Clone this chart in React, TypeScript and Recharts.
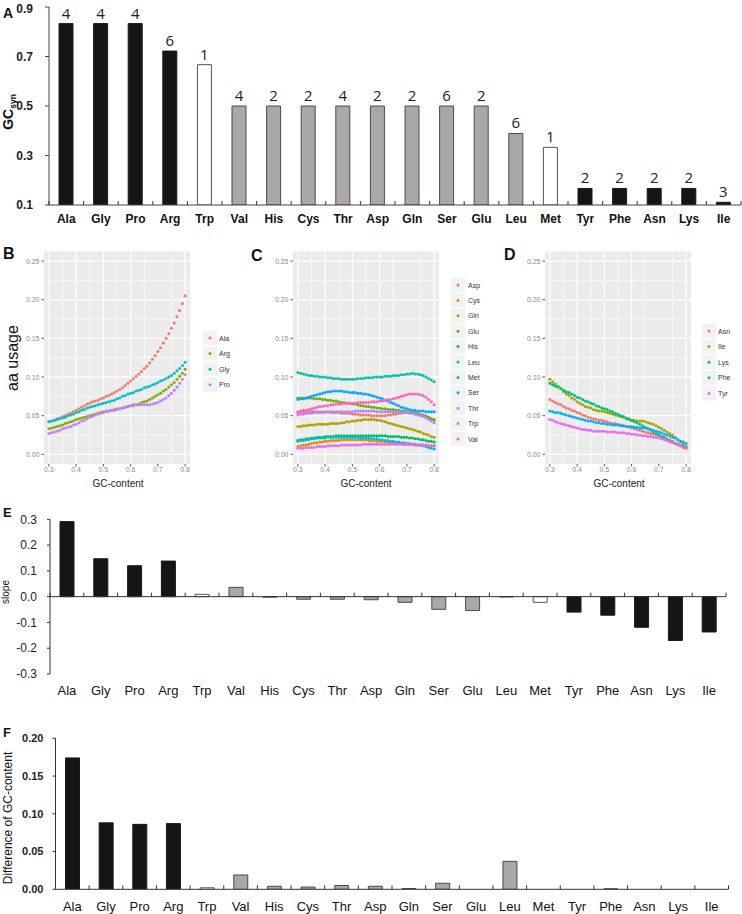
import React from 'react';
import {
  BarChart, Bar, XAxis, YAxis, Cell, LabelList, ReferenceLine,
  ScatterChart, Scatter, CartesianGrid,
} from 'recharts';

const FONT = '"Liberation Sans", Arial, sans-serif';

// ---------- categories & bar data ----------
const aminoAcids = ['Ala','Gly','Pro','Arg','Trp','Val','His','Cys','Thr','Asp','Gln','Ser','Glu','Leu','Met','Tyr','Phe','Asn','Lys','Ile'];
const barClass = ['k','k','k','k','w','g','g','g','g','g','g','g','g','g','w','k','k','k','k','k'];
const gcSyn = [0.833,0.833,0.833,0.722,0.667,0.5,0.5,0.5,0.5,0.5,0.5,0.5,0.5,0.389,0.333,0.167,0.167,0.167,0.167,0.111];
const codonCount = [4,4,4,6,1,4,2,2,4,2,2,6,2,6,1,2,2,2,2,3];
const slope = [0.291,0.147,0.120,0.138,0.009,0.036,-0.002,-0.010,-0.010,-0.012,-0.022,-0.049,-0.054,-0.001,-0.022,-0.060,-0.072,-0.119,-0.170,-0.137];
const gcDiff = [0.174,0.088,0.086,0.087,0.002,0.019,0.004,0.003,0.005,0.004,0.001,0.008,0,0.037,0,0,0.0005,0,0,0];

const ticksA = [0.1,0.3,0.5,0.7,0.9];
const ticksE = [-0.3,-0.2,-0.1,0,0.1,0.2,0.3];
const ticksF = [0,0.05,0.1,0.15,0.2];

// ---------- aa usage vs GC-content ----------
const gcContent = [0.30,0.31,0.32,0.33,0.34,0.35,0.36,0.37,0.38,0.39,0.40,0.41,0.42,0.43,0.44,0.45,0.46,0.47,0.48,0.49,0.50,0.51,0.52,0.53,0.54,0.55,0.56,0.57,0.58,0.59,0.60,0.61,0.62,0.63,0.64,0.65,0.66,0.67,0.68,0.69,0.70,0.71,0.72,0.73,0.74,0.75,0.76,0.77,0.78,0.79,0.80];

// Panel B
const usageAla = [.042,.043,.044,.046,.047,.049,.050,.052,.053,.055, .057,.059,.061,.063,.065,.066,.068,.069,.070,.072, .073,.075,.076,.078,.080,.082,.084,.086,.089,.092, .095,.098,.101,.104,.107,.111,.114,.118,.123,.128, .133,.138,.144,.150,.156,.163,.170,.178,.186,.195, .205];
const usageArg = [.033,.034,.035,.036,.037,.038,.040,.041,.042,.043, .045,.046,.047,.048,.049,.050,.051,.052,.053,.054, .055,.056,.056,.057,.058,.059,.059,.060,.061,.062, .063,.064,.064,.065,.067,.068,.069,.071,.073,.075, .077,.079,.082,.084,.087,.090,.093,.097,.101,.105, .110];
const usageGly = [.042,.043,.044,.045,.046,.047,.048,.050,.051,.052, .054,.055,.057,.058,.060,.061,.062,.063,.064,.065, .066,.067,.068,.069,.070,.072,.073,.075,.076,.078, .079,.080,.082,.083,.084,.086,.087,.088,.090,.091, .093,.095,.096,.098,.100,.102,.105,.108,.111,.115, .119];
const usagePro = [.027,.028,.029,.030,.031,.033,.034,.035,.036,.038, .039,.041,.043,.044,.046,.048,.049,.051,.052,.053, .054,.055,.056,.057,.057,.058,.059,.060,.061,.062, .063,.063,.064,.064,.064,.064,.064,.064,.065,.066, .067,.069,.071,.073,.076,.079,.083,.087,.092,.097, .103];

// Panel C
const usageAsp = [.054,.054,.055,.055,.055,.055,.055,.055,.055,.055, .055,.055,.054,.054,.054,.054,.053,.053,.053,.053, .052,.052,.052,.051,.051,.051,.051,.050,.050,.050, .050,.050,.050,.051,.051,.052,.052,.053,.053,.054, .054,.054,.054,.054,.053,.052,.051,.050,.048,.046, .044];
const usageCys = [.010,.011,.012,.012,.013,.014,.015,.015,.016,.016, .017,.017,.018,.018,.018,.018,.019,.019,.019,.019, .019,.019,.019,.019,.019,.019,.018,.018,.018,.017, .017,.017,.016,.016,.015,.015,.015,.014,.014,.013, .013,.013,.013,.012,.012,.012,.012,.012,.011,.011, .011];
const usageGln = [.036,.036,.037,.037,.038,.038,.038,.039,.039,.039, .039,.039,.040,.040,.040,.040,.041,.041,.042,.042, .043,.043,.044,.044,.045,.045,.045,.045,.045,.044, .044,.043,.042,.041,.040,.039,.038,.037,.036,.035, .034,.033,.032,.031,.030,.029,.027,.026,.025,.023, .022];
const usageGlu = [.073,.073,.073,.073,.073,.073,.072,.072,.072,.071, .071,.070,.070,.069,.069,.068,.067,.067,.066,.066, .065,.065,.064,.063,.063,.062,.062,.061,.061,.060, .060,.059,.059,.058,.058,.058,.057,.057,.056,.056, .055,.054,.054,.053,.052,.051,.050,.049,.048,.046, .045];
const usageHis = [.018,.019,.019,.020,.020,.021,.021,.022,.022,.022, .023,.023,.023,.023,.024,.024,.024,.024,.024,.024, .024,.024,.024,.024,.024,.024,.024,.024,.024,.024, .024,.024,.024,.023,.023,.023,.023,.023,.022,.022, .022,.021,.021,.020,.020,.019,.019,.018,.017,.017, .016];
const usageLeu = [.106,.105,.104,.103,.102,.102,.101,.101,.100,.100, .100,.099,.099,.098,.098,.098,.097,.097,.097,.097, .097,.097,.098,.098,.098,.099,.099,.099,.100,.100, .100,.100,.101,.101,.101,.102,.102,.102,.103,.103, .104,.104,.105,.104,.104,.103,.102,.100,.098,.096, .094];
const usageMet = [.017,.018,.018,.019,.019,.020,.020,.021,.021,.021, .021,.022,.022,.022,.022,.022,.022,.022,.022,.022, .022,.022,.022,.021,.021,.021,.021,.020,.020,.020, .019,.019,.018,.018,.017,.017,.016,.016,.015,.015, .014,.014,.013,.013,.012,.012,.011,.010,.009,.008, .007];
const usageSer = [.071,.072,.072,.073,.074,.075,.076,.077,.078,.079, .080,.081,.081,.082,.082,.082,.082,.081,.081,.080, .080,.080,.079,.079,.078,.078,.077,.076,.075,.074, .073,.072,.070,.069,.067,.066,.064,.063,.061,.060, .059,.058,.057,.057,.056,.056,.056,.055,.055,.055, .055];
const usageThr = [.051,.052,.052,.053,.053,.053,.054,.054,.054,.054, .054,.055,.055,.055,.055,.055,.055,.055,.055,.055, .055,.056,.056,.056,.056,.056,.056,.056,.056,.055, .055,.055,.055,.055,.055,.055,.055,.055,.054,.054, .054,.053,.053,.052,.051,.050,.049,.047,.045,.043, .041];
const usageTrp = [.008,.008,.008,.009,.009,.009,.009,.010,.010,.010, .010,.011,.011,.011,.011,.011,.012,.012,.012,.012, .012,.012,.012,.012,.013,.013,.013,.013,.013,.013, .013,.013,.013,.013,.013,.013,.013,.013,.013,.013, .013,.013,.013,.012,.012,.012,.012,.012,.011,.011, .011];
const usageVal = [.055,.056,.057,.057,.058,.059,.060,.061,.062,.062, .063,.063,.064,.064,.065,.065,.065,.066,.066,.066, .066,.066,.067,.067,.067,.067,.067,.068,.068,.068, .069,.069,.070,.071,.071,.072,.073,.074,.075,.076, .077,.078,.078,.078,.078,.077,.076,.074,.071,.068, .064];

// Panel D
const usageAsn = [.071,.069,.067,.065,.064,.062,.060,.059,.057,.056, .054,.053,.051,.050,.048,.047,.046,.045,.044,.044, .043,.042,.041,.040,.040,.039,.038,.037,.036,.035, .034,.033,.032,.031,.030,.029,.028,.027,.026,.026, .025,.023,.022,.020,.019,.017,.015,.013,.011,.009, .008];
const usageIle = [.097,.094,.091,.088,.085,.081,.078,.076,.073,.071, .068,.066,.064,.062,.061,.060,.058,.057,.056,.056, .055,.054,.053,.052,.051,.050,.049,.048,.046,.045, .044,.044,.043,.043,.043,.042,.041,.040,.039,.037, .035,.033,.031,.029,.027,.025,.022,.019,.016,.013, .010];
const usageLys = [.092,.090,.088,.087,.085,.083,.081,.080,.078,.076, .074,.073,.071,.069,.068,.066,.065,.063,.062,.060, .059,.058,.056,.055,.053,.052,.050,.049,.047,.046, .044,.042,.041,.039,.037,.035,.033,.031,.029,.027, .025,.023,.021,.019,.017,.016,.014,.013,.011,.010, .009];
const usagePhe = [.056,.055,.054,.054,.053,.052,.051,.050,.049,.048, .047,.046,.045,.044,.043,.043,.042,.041,.041,.040, .040,.039,.039,.038,.038,.038,.037,.037,.036,.036, .036,.035,.035,.034,.034,.034,.033,.032,.031,.030, .029,.028,.026,.025,.024,.022,.021,.019,.017,.016, .014];
const usageTyr = [.045,.044,.042,.041,.040,.039,.038,.037,.036,.035, .034,.033,.032,.032,.031,.031,.030,.030,.030,.030, .030,.029,.029,.029,.029,.028,.028,.028,.027,.027, .026,.026,.025,.025,.024,.024,.023,.023,.022,.022, .021,.020,.019,.018,.016,.015,.014,.012,.011,.009, .008];

const namesB = ['Ala','Arg','Gly','Pro'];
const valuesB = [usageAla, usageArg, usageGly, usagePro];
const colorsB = ['#F8766D','#7CAE00','#00BFC4','#C77CFF'];

const namesC = ['Asp','Cys','Gln','Glu','His','Leu','Met','Ser','Thr','Trp','Val'];
const valuesC = [usageAsp, usageCys, usageGln, usageGlu, usageHis, usageLeu, usageMet, usageSer, usageThr, usageTrp, usageVal];
const colorsC = ['#F8766D','#DB8E00','#AEA200','#64B200','#00BD5C','#00C1A7','#00BADE','#00A6FF','#B385FF','#EF67EB','#FF63B6'];

const namesD = ['Asn','Ile','Lys','Phe','Tyr'];
const valuesD = [usageAsn, usageIle, usageLys, usagePhe, usageTyr];
const colorsD = ['#F8766D','#A3A500','#00BF7D','#00B0F6','#E76BF3'];

const ggXTicks = [0.3,0.4,0.5,0.6,0.7,0.8];
const ggXMinor = [0.35,0.45,0.55,0.65,0.75];
const ggYTicks = [0,0.05,0.1,0.15,0.2,0.25];
const ggYMinor = [0.025,0.075,0.125,0.175,0.225];

// ---------- styles ----------
const fillOf: Record<string, string> = { k: '#151515', g: '#aaa7a4', w: '#ffffff' };
const strokeOf: Record<string, string> = { k: '#1a1a1a', g: '#4a4a4a', w: '#555555' };

const barData = aminoAcids.map((aa, i) => ({
  aa, cls: barClass[i], gc: gcSyn[i], n: codonCount[i], slope: slope[i], diff: gcDiff[i],
}));

function CategoryTick(props: any) {
  const { x, y, payload, index, half, count, tickUp, zeroShift, labelDy, fontSize, fontWeight } = props;
  const zy = y - (zeroShift || 0);
  return (
    <g>
      <line x1={x - half} x2={x - half} y1={zy} y2={zy - tickUp} stroke="#333" strokeWidth={1} />
      {index === count - 1 ? (
        <line x1={x + half} x2={x + half} y1={zy} y2={zy - tickUp} stroke="#333" strokeWidth={1} />
      ) : null}
      <text x={x} y={y + labelDy} textAnchor="middle" fontSize={fontSize} fontWeight={fontWeight}
        fill="#111" fontFamily={FONT}>{payload.value}</text>
    </g>
  );
}

function UsagePanel({ left, top, names, values, colors }: any) {
  const yW = 44;
  const plotW = 146;
  return (
    <div style={{ position: 'absolute', left, top }}>
      <ScatterChart width={yW + plotW + 2} height={238} margin={{ top: 11.4, right: 2, bottom: 0, left: 0 }}>
        <CartesianGrid fill="#EBEBEB" fillOpacity={1} stroke="#ffffff" strokeWidth={0.6}
          horizontalValues={ggYMinor} verticalValues={ggXMinor} />
        <CartesianGrid stroke="#ffffff" strokeWidth={1.2}
          horizontalValues={ggYTicks} verticalValues={ggXTicks} />
        <XAxis type="number" dataKey="x" domain={[0.282, 0.818]} ticks={ggXTicks} allowDataOverflow
          height={14} axisLine={false} tickSize={2.5} tickMargin={1}
          tickLine={{ stroke: '#555' }}
          tick={{ fontSize: 7, fill: '#8a8a8a', fontFamily: FONT }}
          tickFormatter={(v: number) => v.toFixed(1)} />
        <YAxis type="number" dataKey="y" domain={[-0.0125, 0.2625]} ticks={ggYTicks} allowDataOverflow
          width={yW} axisLine={false} tickSize={2.5} tickMargin={2}
          tickLine={{ stroke: '#555' }}
          tick={{ fontSize: 7, fill: '#8a8a8a', fontFamily: FONT }}
          tickFormatter={(v: number) => v.toFixed(2)} />
        {names.map((nm: string, si: number) => (
          <Scatter key={nm} name={nm} isAnimationActive={false}
            data={gcContent.map((x, i) => ({ x, y: values[si][i] }))}
            fill={colors[si]}
            shape={(p: any) => <circle cx={p.cx} cy={p.cy} r={1.5} fill={colors[si]} />} />
        ))}
      </ScatterChart>
    </div>
  );
}

function LegendBlock({ keyX, labelX, y0, step, names, colors }: any) {
  return (
    <g>
      {names.map((nm: string, i: number) => (
        <g key={nm}>
          <rect x={keyX - 7.5} y={y0 + i * step - 7.5} width={15} height={15} fill="#F2F2F2" stroke="#ffffff" strokeWidth={0.8} />
          <circle cx={keyX} cy={y0 + i * step} r={1.5} fill={colors[i]} />
          <text x={labelX} y={y0 + i * step + 2.5} fontSize={7} fill="#333" fontFamily={FONT}>{nm}</text>
        </g>
      ))}
    </g>
  );
}

export default function App() {
  // Panel A layout
  const aYW = 49, aRight = 1, aW = 742;
  const aHalf = (aW - aYW - aRight) / 20 / 2;
  // Panel E layout
  const eYW = 50, eRight = 16, eTop = 505, ePlotTop = 519.3, ePlotH = 154.7;
  const eHalf = (742 - eYW - eRight) / 20 / 2;
  // Panel F layout
  const fYW = 55.5, fRight = 13.5, fTop = 725, fPlotTop = 738.3, fPlotH = 151;
  const fHalf = (742 - fYW - fRight) / 20 / 2;

  return (
    <div style={{ position: 'absolute', left: 0, top: 0, width: 742, height: 914, background: '#fff', overflow: 'hidden', fontFamily: FONT }}>
      {/* Panel A */}
      <div style={{ position: 'absolute', left: 0, top: 0 }}>
        <BarChart width={aW} height={232} data={barData} margin={{ top: 7, right: aRight, bottom: 0, left: 0 }}>
          <XAxis dataKey="aa" interval={0} height={27} tickSize={0} tickMargin={0} tickLine={false}
            axisLine={{ stroke: '#444' }}
            tick={(p: any) => <CategoryTick {...p} half={aHalf} count={20} tickUp={4} labelDy={18} fontSize={12} fontWeight="bold" />} />
          <YAxis type="number" domain={[0.1, 0.9]} ticks={ticksA} allowDataOverflow width={aYW}
            tickSize={4} tickMargin={12} axisLine={{ stroke: '#444' }} tickLine={{ stroke: '#444' }}
            tick={{ fontSize: 12, fontWeight: 'bold', fill: '#222', fontFamily: FONT }}
            tickFormatter={(v: number) => v.toFixed(1)} />
          <Bar dataKey="gc" barSize={14} isAnimationActive={false}>
            {barData.map((d) => (
              <Cell key={d.aa} fill={fillOf[d.cls]} stroke={strokeOf[d.cls]} strokeWidth={1} />
            ))}
            <LabelList dataKey="n" position="top" offset={5}
              style={{ fontSize: 15, fill: '#222', fontFamily: '"Open Sans", "Liberation Sans", sans-serif' }} />
          </Bar>
        </BarChart>
      </div>

      {/* Panels B, C, D */}
      <UsagePanel left={0} top={240} names={namesB} values={valuesB} colors={colorsB} />
      <UsagePanel left={249} top={240} names={namesC} values={valuesC} colors={colorsC} />
      <UsagePanel left={501} top={240} names={namesD} values={valuesD} colors={colorsD} />

      {/* Panel E */}
      <div style={{ position: 'absolute', left: 0, top: eTop }}>
        <BarChart width={742} height={ePlotTop - eTop + ePlotH + 30} data={barData}
          margin={{ top: ePlotTop - eTop, right: eRight, bottom: 0, left: 0 }}>
          <XAxis dataKey="aa" interval={0} height={30} tickSize={0} tickMargin={0} tickLine={false} axisLine={false}
            tick={(p: any) => <CategoryTick {...p} half={eHalf} count={20} tickUp={4} zeroShift={ePlotH / 2} labelDy={21} fontSize={13} fontWeight="normal" />} />
          <YAxis type="number" domain={[-0.3, 0.3]} ticks={ticksE} allowDataOverflow width={eYW}
            tickSize={3} tickMargin={10} axisLine={{ stroke: '#333' }} tickLine={{ stroke: '#333' }}
            tick={{ fontSize: 12, fill: '#222', fontFamily: FONT }}
            tickFormatter={(v: number) => v.toFixed(1)} />
          <ReferenceLine y={0} stroke="#333" strokeWidth={1} />
          <Bar dataKey="slope" barSize={14} isAnimationActive={false}>
            {barData.map((d) => (
              <Cell key={d.aa} fill={fillOf[d.cls]} stroke={strokeOf[d.cls]} strokeWidth={1} />
            ))}
          </Bar>
        </BarChart>
      </div>

      {/* Panel F */}
      <div style={{ position: 'absolute', left: 0, top: fTop }}>
        <BarChart width={742} height={189} data={barData}
          margin={{ top: fPlotTop - fTop, right: fRight, bottom: 0, left: 0 }}>
          <XAxis dataKey="aa" interval={0} height={189 - (fPlotTop - fTop) - fPlotH} tickSize={0} tickMargin={0} tickLine={false}
            axisLine={{ stroke: '#333' }}
            tick={(p: any) => <CategoryTick {...p} half={fHalf} count={20} tickUp={4} labelDy={22} fontSize={13} fontWeight="normal" />} />
          <YAxis type="number" domain={[0, 0.2]} ticks={ticksF} allowDataOverflow width={fYW}
            tickSize={3} tickMargin={9} axisLine={{ stroke: '#333' }} tickLine={{ stroke: '#333' }}
            tick={{ fontSize: 11, fontWeight: 'bold', fill: '#222', fontFamily: FONT }}
            tickFormatter={(v: number) => v.toFixed(2)} />
          <Bar dataKey="diff" barSize={14} isAnimationActive={false}>
            {barData.map((d) => (
              <Cell key={d.aa} fill={fillOf[d.cls]} stroke={strokeOf[d.cls]} strokeWidth={1} />
            ))}
          </Bar>
        </BarChart>
      </div>

      {/* Overlay: panel letters, axis titles, legends */}
      <svg width={742} height={914} style={{ position: 'absolute', left: 0, top: 0, pointerEvents: 'none' }} fontFamily={FONT}>
        <text x={3} y={18} fontSize={14} fontWeight="bold" fill="#111">A</text>
        <text transform="translate(13,112) rotate(-90)" textAnchor="middle" fontSize={14} fontWeight="bold" fill="#111">
          <tspan>GC</tspan><tspan fontSize={8.5} dy={2.5}>syn</tspan>
        </text>

        <text x={3} y={259} fontSize={16} fontWeight="bold" fill="#111">B</text>
        <text x={251} y={261} fontSize={16} fontWeight="bold" fill="#111">C</text>
        <text x={504} y={260} fontSize={16} fontWeight="bold" fill="#111">D</text>
        <text transform="translate(18,358) rotate(-90)" textAnchor="middle" fontSize={16} fill="#111">aa usage</text>
        <text x={118} y={487} textAnchor="middle" fontSize={10} fill="#222">GC-content</text>
        <text x={366} y={487} textAnchor="middle" fontSize={10} fill="#222">GC-content</text>
        <text x={619} y={487} textAnchor="middle" fontSize={10} fill="#222">GC-content</text>

        <LegendBlock keyX={210} labelX={219} y0={338} step={15.6} names={namesB} colors={colorsB} />
        <LegendBlock keyX={458} labelX={468} y0={285} step={15.4} names={namesC} colors={colorsC} />
        <LegendBlock keyX={709} labelX={718} y0={331} step={15.6} names={namesD} colors={colorsD} />

        <text x={3} y={517} fontSize={13} fontWeight="bold" fill="#111">E</text>
        <text transform="translate(9,592) rotate(-90)" textAnchor="middle" fontSize={10} fill="#111">slope</text>

        <text x={3} y={737} fontSize={13} fontWeight="bold" fill="#111">F</text>
        <text transform="translate(12,818) rotate(-90)" textAnchor="middle" fontSize={12} fill="#111">Difference of GC-content</text>
      </svg>
    </div>
  );
}
